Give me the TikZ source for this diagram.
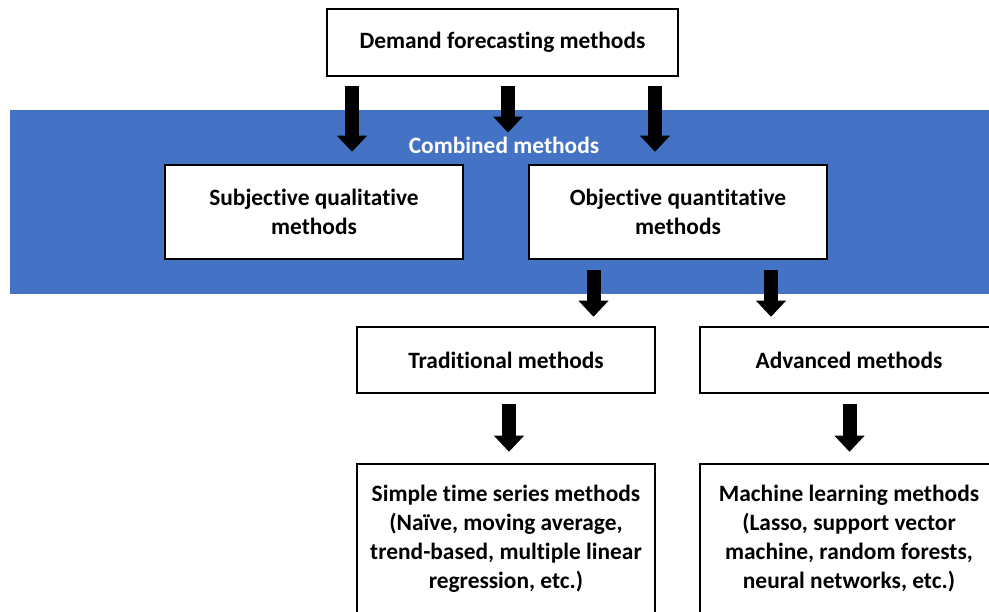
\documentclass[tikz,border=0pt]{standalone}
\usepackage{fontspec}
\setmainfont{Carlito}[Ligatures=NoCommon]
\usetikzlibrary{arrows.meta}
\definecolor{bandblue}{HTML}{4472C4}
\begin{document}
\begin{tikzpicture}[x=1pt,y=-1pt,
  box/.style={draw=black, line width=2.5pt, fill=white, inner sep=0pt, align=center,
    font=\fontsize{23.4}{29}\selectfont\bfseries},
  blockarrow/.style={line width=14pt, draw=black,
    -{Triangle[line width=0pt, width=30pt, length=16pt]}}]
\useasboundingbox (0,0) rectangle (989,612);
\clip (0,0) rectangle (989,612);
\fill[bandblue] (10,110) rectangle (1000,294);
\node[box, minimum width=351pt, minimum height=67pt] (top) at (502.5,42.5) {Demand forecasting methods};
\node[font=\fontsize{23.4}{29}\selectfont\bfseries, text=white, inner sep=0pt] (comb) at (504,145) {Combined methods};
\node[box, minimum width=298pt, minimum height=94pt] (sub) at (314,212) {Subjective qualitative\\methods};
\node[box, minimum width=298pt, minimum height=94pt] (obj) at (678,212) {Objective quantitative\\methods};
\node[box, minimum width=298pt, minimum height=66pt] (trad) at (506,360) {Traditional methods};
\node[box, minimum width=298pt, minimum height=66pt] (adv) at (849,360) {Advanced methods};
\node[box, minimum width=298pt, minimum height=150pt] (simple) at (506,539) {Simple time series methods\\(Naïve, moving average,\\trend-based, multiple linear\\regression, etc.)};
\node[box, minimum width=298pt, minimum height=150pt] (ml) at (849,539) {Machine learning methods\\(Lasso, support vector\\machine, random forests,\\neural networks, etc.)};
\coordinate (xa) at (352,0);
\coordinate (xb) at (508,0);
\coordinate (xc) at (655,0);
\coordinate (xd) at (593.5,0);
\coordinate (xe) at (771,0);
\coordinate (xf) at (509,0);
\coordinate (xg) at (849.5,0);
\draw[blockarrow] ([yshift=-9pt]top.south -| xa) -- ([yshift=12pt]sub.north -| xa);
\draw[blockarrow] ([yshift=-9pt]top.south -| xb) -- ([yshift=4pt]comb.north -| xb);
\draw[blockarrow] ([yshift=-9pt]top.south -| xc) -- ([yshift=12pt]obj.north -| xc);
\draw[blockarrow] ([yshift=-10pt]obj.south -| xd) -- ([yshift=9pt]trad.north -| xd);
\draw[blockarrow] ([yshift=-10pt]obj.south -| xe) -- ([yshift=9pt]adv.north -| xe);
\draw[blockarrow] ([yshift=-10pt]trad.south -| xf) -- ([yshift=11pt]simple.north -| xf);
\draw[blockarrow] ([yshift=-10pt]adv.south -| xg) -- ([yshift=11pt]ml.north -| xg);
\end{tikzpicture}
\end{document}
